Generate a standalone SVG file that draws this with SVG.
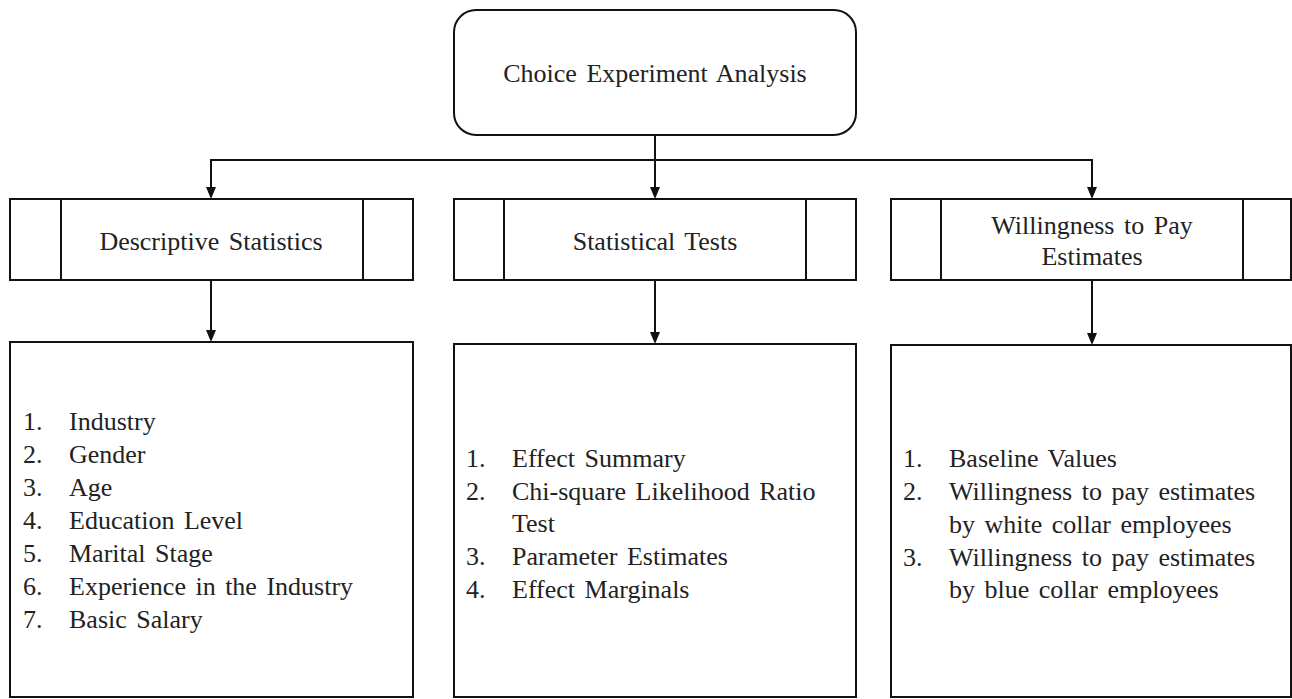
<svg xmlns="http://www.w3.org/2000/svg" width="1292" height="699" viewBox="0 0 1292 699">
<style>
.box{fill:#fff;stroke:#111;stroke-width:2}
.ln{fill:none;stroke:#111;stroke-width:2}
.ah{fill:#111}
svg text.t{font-family:'Liberation Serif','Times New Roman',serif !important;font-size:26px;fill:#222;word-spacing:3px}
.c{text-anchor:middle}
</style>
<rect width="1292" height="699" fill="#fff"/>
<g id="connectors">
<line class="ln" x1="655" y1="135" x2="655" y2="160"/>
<line class="ln" x1="210" y1="160" x2="1093" y2="160"/>
<line class="ln" x1="211" y1="160" x2="211" y2="188"/>
<path class="ah" d="M206,187 L216,187 L211,199 Z"/>
<line class="ln" x1="655" y1="160" x2="655" y2="188"/>
<path class="ah" d="M650,187 L660,187 L655,199 Z"/>
<line class="ln" x1="1092" y1="160" x2="1092" y2="188"/>
<path class="ah" d="M1087,187 L1097,187 L1092,199 Z"/>
<line class="ln" x1="211" y1="280" x2="211" y2="331"/>
<path class="ah" d="M206,330 L216,330 L211,342 Z"/>
<line class="ln" x1="655" y1="280" x2="655" y2="333"/>
<path class="ah" d="M650,332 L660,332 L655,344 Z"/>
<line class="ln" x1="1092" y1="280" x2="1092" y2="334"/>
<path class="ah" d="M1087,333 L1097,333 L1092,345 Z"/>
</g>
<g id="root">
<rect class="box" x="454" y="10" width="402" height="125" rx="22" ry="22"/>
<text class="t c" x="655" y="82" style="font-family:'Liberation Serif',serif">Choice Experiment Analysis</text>
</g>
<g id="descriptive">
<rect class="box" x="10" y="199" width="403" height="81"/>
<line class="ln" x1="61" y1="199" x2="61" y2="280"/>
<line class="ln" x1="363" y1="199" x2="363" y2="280"/>
<text class="t c" x="211" y="250">Descriptive Statistics</text>
</g>
<g id="tests">
<rect class="box" x="454" y="199" width="402" height="81"/>
<line class="ln" x1="504" y1="199" x2="504" y2="280"/>
<line class="ln" x1="806" y1="199" x2="806" y2="280"/>
<text class="t c" x="655" y="250">Statistical Tests</text>
</g>
<g id="wtp">
<rect class="box" x="891" y="199" width="400" height="81"/>
<line class="ln" x1="941" y1="199" x2="941" y2="280"/>
<line class="ln" x1="1243" y1="199" x2="1243" y2="280"/>
<text class="t c" x="1092" y="234">Willingness to Pay</text>
<text class="t c" x="1092" y="265">Estimates</text>
</g>
<g id="descriptive-list">
<rect class="box" x="10" y="342" width="403" height="355"/>
<text class="t" x="23" y="430">1.</text><text class="t" x="69" y="430">Industry</text>
<text class="t" x="23" y="463">2.</text><text class="t" x="69" y="463">Gender</text>
<text class="t" x="23" y="496">3.</text><text class="t" x="69" y="496">Age</text>
<text class="t" x="23" y="529">4.</text><text class="t" x="69" y="529">Education Level</text>
<text class="t" x="23" y="562">5.</text><text class="t" x="69" y="562">Marital Stage</text>
<text class="t" x="23" y="595">6.</text><text class="t" x="69" y="595">Experience in the Industry</text>
<text class="t" x="23" y="628">7.</text><text class="t" x="69" y="628">Basic Salary</text>
</g>
<g id="tests-list">
<rect class="box" x="454" y="344" width="402" height="353"/>
<text class="t" x="466" y="467">1.</text><text class="t" x="512" y="467">Effect Summary</text>
<text class="t" x="466" y="500">2.</text><text class="t" x="512" y="500">Chi-square Likelihood Ratio</text>
<text class="t" x="512" y="532">Test</text>
<text class="t" x="466" y="565">3.</text><text class="t" x="512" y="565">Parameter Estimates</text>
<text class="t" x="466" y="598">4.</text><text class="t" x="512" y="598">Effect Marginals</text>
</g>
<g id="wtp-list">
<rect class="box" x="891" y="345" width="400" height="352"/>
<text class="t" x="903" y="467">1.</text><text class="t" x="949" y="467">Baseline Values</text>
<text class="t" x="903" y="500">2.</text><text class="t" x="949" y="500">Willingness to pay estimates</text>
<text class="t" x="949" y="533">by white collar employees</text>
<text class="t" x="903" y="566">3.</text><text class="t" x="949" y="566">Willingness to pay estimates</text>
<text class="t" x="949" y="598">by blue collar employees</text>
</g>
</svg>
